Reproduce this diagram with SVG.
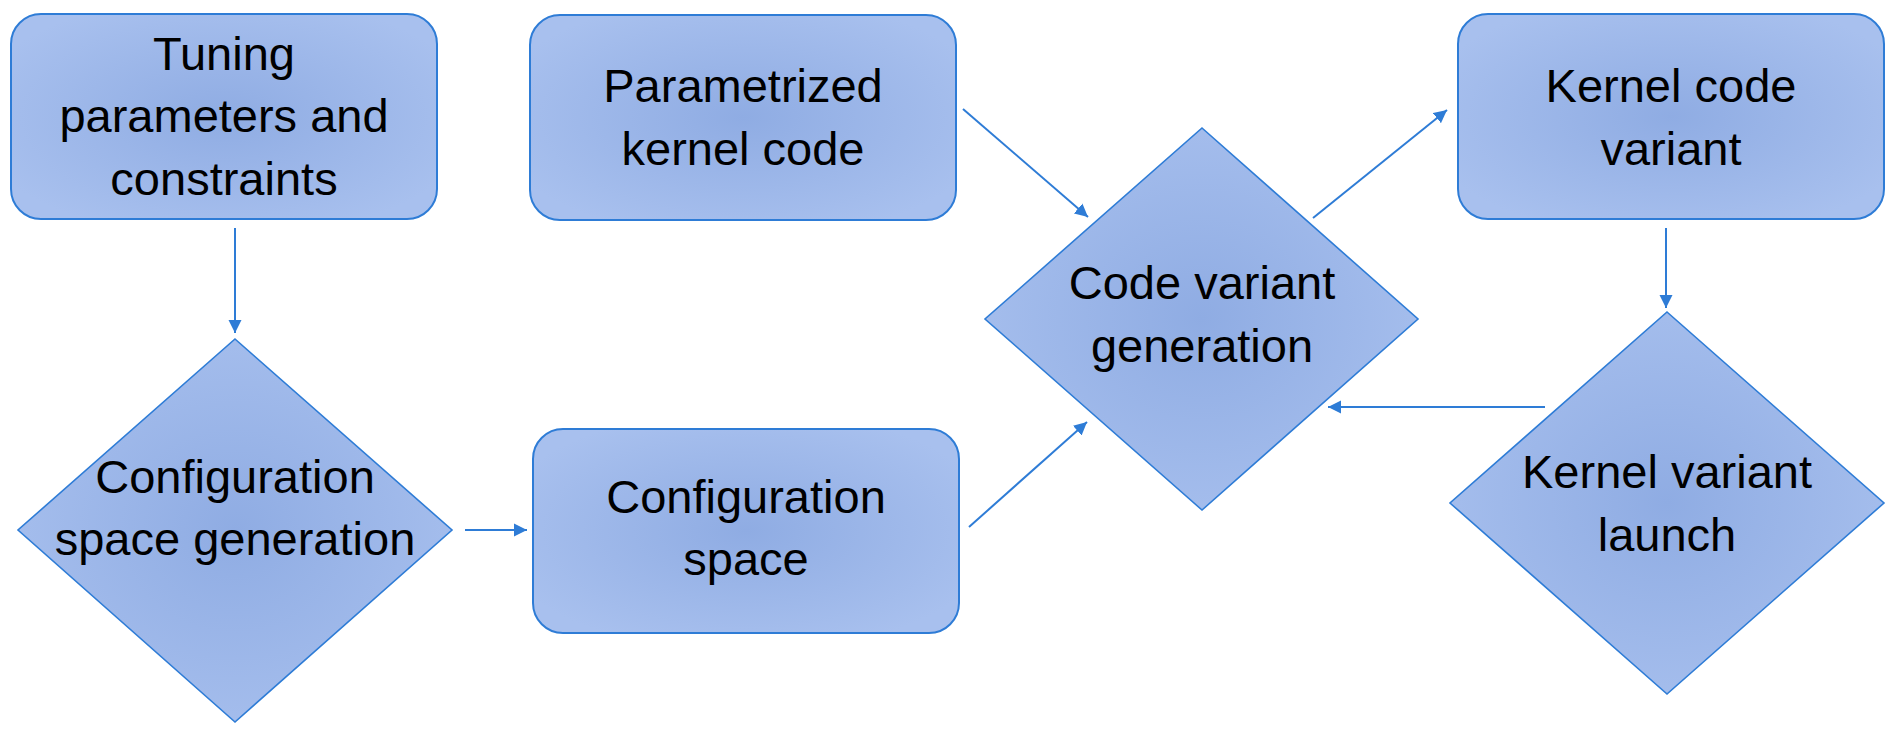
<svg xmlns="http://www.w3.org/2000/svg" width="1899" height="735" viewBox="0 0 1899 735">
<defs>
<radialGradient id="fill" cx="0.5" cy="0.5" r="0.6">
<stop offset="0" stop-color="#8FACE3"/>
<stop offset="1" stop-color="#A8C0EE"/>
</radialGradient>
<marker id="arr" markerUnits="userSpaceOnUse" markerWidth="14" markerHeight="14" viewBox="0 0 14 14" refX="13" refY="7" orient="auto">
<path d="M0,0.5 L13,7 L0,13.5 Z" fill="#2E7CD6"/>
</marker>
</defs>
<style>
.box{fill:url(#fill);stroke:#2E7CD6;stroke-width:2}
.dia{fill:url(#fill);stroke:#2E7CD6;stroke-width:1.6}
.lbl{font-family:"Liberation Sans",Arial,sans-serif;font-size:47px;fill:#000;text-anchor:middle}
.con{stroke:#2E7CD6;stroke-width:2;fill:none;marker-end:url(#arr)}
</style>
<rect width="1899" height="735" fill="#fff"/>
<g id="tuning">
<rect class="box" x="11" y="14" width="426" height="205" rx="30"/>
<text class="lbl" x="224" y="70">Tuning</text>
<text class="lbl" x="224" y="132">parameters and</text>
<text class="lbl" x="224" y="195">constraints</text>
</g>
<g id="parametrized">
<rect class="box" x="530" y="15" width="426" height="205" rx="30"/>
<text class="lbl" x="743" y="102">Parametrized</text>
<text class="lbl" x="743" y="165">kernel code</text>
</g>
<g id="kernelcode">
<rect class="box" x="1458" y="14" width="426" height="205" rx="30"/>
<text class="lbl" x="1671" y="102">Kernel code</text>
<text class="lbl" x="1671" y="165">variant</text>
</g>
<g id="configspace">
<rect class="box" x="533" y="429" width="426" height="204" rx="30"/>
<text class="lbl" x="746" y="513">Configuration</text>
<text class="lbl" x="746" y="575">space</text>
</g>
<g id="configgen">
<polygon class="dia" points="235,339 452,530 235,722 18,530"/>
<text class="lbl" x="235" y="493">Configuration</text>
<text class="lbl" x="235" y="555">space generation</text>
</g>
<g id="codegen">
<polygon class="dia" points="1202,128 1418,319 1202,510 985,319"/>
<text class="lbl" x="1202" y="299">Code variant</text>
<text class="lbl" x="1202" y="362">generation</text>
</g>
<g id="launch">
<polygon class="dia" points="1667,312 1884,503 1667,694 1450,503"/>
<text class="lbl" x="1667" y="488">Kernel variant</text>
<text class="lbl" x="1667" y="551">launch</text>
</g>
<g id="connectors">
<line class="con" x1="235" y1="228" x2="235" y2="333"/>
<line class="con" x1="465" y1="530" x2="527" y2="530"/>
<line class="con" x1="969" y1="527" x2="1087" y2="422"/>
<line class="con" x1="963" y1="109" x2="1088" y2="217"/>
<line class="con" x1="1313" y1="218" x2="1447" y2="110"/>
<line class="con" x1="1666" y1="228" x2="1666" y2="308"/>
<line class="con" x1="1545" y1="407" x2="1328" y2="407"/>
</g>
</svg>
